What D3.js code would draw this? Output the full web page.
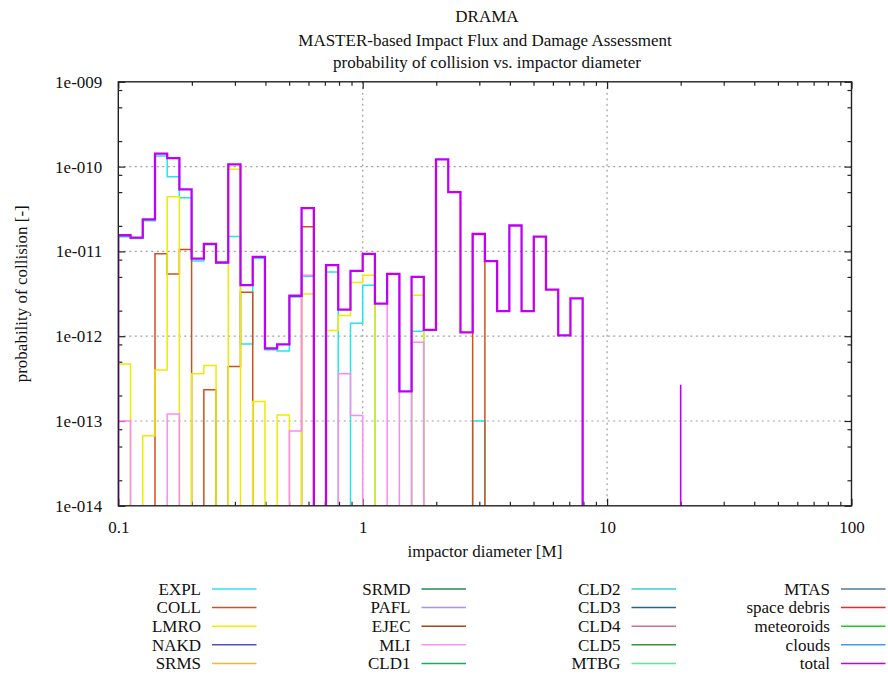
<!DOCTYPE html>
<html>
<head>
<meta charset="utf-8">
<script src="https://cdn.jsdelivr.net/npm/d3@7"></script>
<style>
  body { margin: 0; background: #fff; }
  svg { display: block; font-family: "Liberation Serif", "Times New Roman", serif; }
  .grid line { stroke: #a0a0a0; stroke-width: 1.2; stroke-dasharray: 2 3.5; }
  .axis path { display: none; }
  .axis line { stroke: #222; stroke-width: 1.2; }
  .axis text { font-size: 17px; fill: #111; font-family: "Liberation Serif", serif; }
  .title, .label, .legend text { font-size: 17px; fill: #111; }
</style>
</head>
<body>
<div id="chart"></div>
<script>
// bin edges of the histogram (impactor diameter, m)
const binEdges = [0.1, 0.1122, 0.1259, 0.1413, 0.1585, 0.1778, 0.1995, 0.2239, 0.2512, 0.2818,
  0.3162, 0.3548, 0.3981, 0.4467, 0.5012, 0.5623, 0.6310, 0.7079, 0.7943, 0.8913,
  1.0, 1.122, 1.259, 1.413, 1.585, 1.778, 1.995, 2.239, 2.512, 2.818,
  3.162, 3.548, 3.981, 4.467, 5.012, 5.623, 6.310, 7.079, 7.943];

// probability of collision per bin (0 = below axis)
const explValues = [1.49e-11, 1.42e-11, 2.3e-11, 1.33e-10, 7.6e-11, 4.3e-11, 7.7e-12, 1.2e-11, 7.3e-12, 1.5e-11,
  8.1e-13, 8.3e-12, 6.9e-13, 6.7e-13, 2.9e-12, 5.1e-12, 0, 5.7e-12, 0, 1.42e-12,
  4.0e-12, 0, 0, 0, 1.14e-12, 0, 0, 0, 0, 1.0e-13,
  0, 0, 0, 0, 0, 0, 0, 0];
const collValues = [0, 0, 0, 9.4e-12, 5.4e-12, 1.05e-11, 0, 2.33e-13, 0, 4.4e-13,
  3.3e-12, 0, 0, 0, 0, 1.95e-11, 0, 0, 0, 0,
  0, 0, 0, 0, 0, 0, 0, 0, 0, 1.58e-11,
  0, 0, 0, 0, 0, 0, 0, 0];
const lmroValues = [4.7e-13, 0, 6.7e-14, 4.0e-13, 4.4e-11, 0, 3.6e-13, 4.5e-13, 0, 9.3e-11,
  0, 1.7e-13, 0, 1.18e-13, 0, 3.15e-12, 0, 1.17e-12, 1.76e-12, 4.3e-12,
  5.25e-12, 0, 0, 0, 3.03e-12, 0, 0, 0, 0, 0,
  0, 0, 0, 0, 0, 0, 0, 0];
const mliValues = [1.0e-13, 0, 0, 0, 1.21e-13, 0, 0, 0, 0, 0,
  0, 0, 0, 0, 7.6e-14, 5.25e-12, 0, 0, 3.6e-13, 1.16e-13,
  0, 0, 5.43e-12, 0, 8.5e-13, 0, 0, 0, 0, 0,
  0, 0, 0, 0, 0, 0, 0, 0];
const totalValues = [1.55e-11, 1.45e-11, 2.38e-11, 1.42e-10, 1.26e-10, 5.4e-11, 8.2e-12, 1.23e-11, 7.4e-12, 1.06e-10,
  4.0e-12, 8.6e-12, 7.2e-13, 8.0e-13, 3.0e-12, 3.24e-11, 0, 6.9e-12, 2.06e-12, 5.9e-12,
  9.35e-12, 2.42e-12, 5.43e-12, 2.24e-13, 5.0e-12, 1.19e-12, 1.22e-10, 5.0e-11, 1.11e-12, 1.61e-11,
  7.7e-12, 1.98e-12, 2.02e-11, 1.98e-12, 1.49e-11, 3.54e-12, 1.02e-12, 2.8e-12];

// lone needle in the total curve near 20 m
const spikeDiameter = [20];
const spikeTotal = [2.67e-13];

// axes
const xTickValues = [0.1, 1, 10, 100];
const xTickLabels = ["0.1", "1", "10", "100"];
const yTickValues = [1e-14, 1e-13, 1e-12, 1e-11, 1e-10, 1e-9];
const yTickLabels = ["1e-014", "1e-013", "1e-012", "1e-011", "1e-010", "1e-009"];
const xMinorSteps = [2, 3, 4, 5, 6, 7, 8, 9];
const yMinorSteps = [2, 5, 8];

// legend (gnuplot key, 4 columns of 5)
const legendNames = ["EXPL", "COLL", "LMRO", "NAKD", "SRMS",
  "SRMD", "PAFL", "EJEC", "MLI", "CLD1",
  "CLD2", "CLD3", "CLD4", "CLD5", "MTBG",
  "MTAS", "space debris", "meteoroids", "clouds", "total"];
const legendColors = ["#30e4ec", "#d05028", "#f0f000", "#5050d0", "#ffb428",
  "#228a52", "#a890f8", "#a04818", "#ff90f4", "#10b062",
  "#40c8d0", "#206888", "#d07090", "#309840", "#50f090",
  "#507898", "#ff2020", "#20c820", "#4098f8", "#c000f8"];

const COLOR = { expl: "#22e6ee", coll: "#d0501c", lmro: "#ecec00", mli: "#ff86f6", total: "#c000f4" };

const W = 888, H = 674;
const margin = { top: 81.8, right: 36.5, bottom: 168.2, left: 118.3 };
const width = W - margin.left - margin.right;
const height = H - margin.top - margin.bottom;

const svg = d3.select("#chart").append("svg")
  .attr("width", W).attr("height", H)
  .attr("viewBox", `0 0 ${W} ${H}`);
svg.append("rect").attr("width", W).attr("height", H).attr("fill", "#fff");

const g = svg.append("g").attr("transform", `translate(${margin.left},${margin.top})`);

const x = d3.scaleLog().domain([0.1, 100]).range([0, width]);
const y = d3.scaleLog().domain([1e-14, 1e-9]).range([height, 0]);

// grid
const grid = g.append("g").attr("class", "grid");
grid.selectAll(".gy").data(yTickValues.slice(1, -1)).join("line")
  .attr("x1", 0).attr("x2", width).attr("y1", d => y(d)).attr("y2", d => y(d));
grid.selectAll(".gx").data(xTickValues.slice(1, -1)).join("line")
  .attr("y1", 0).attr("y2", height).attr("x1", d => x(d)).attr("x2", d => x(d));

// minor tick positions
const xMinor = [];
xTickValues.slice(0, -1).forEach(d => xMinorSteps.forEach(m => xMinor.push(d * m)));
const yMinor = [];
yTickValues.slice(0, -1).forEach(d => yMinorSteps.forEach(m => yMinor.push(d * m)));

const fmtX = d => xTickLabels[xTickValues.indexOf(d)];
const fmtY = d => yTickLabels[yTickValues.indexOf(d)];

// bottom / top
g.append("g").attr("class", "axis").attr("transform", `translate(0,${height})`)
  .call(d3.axisBottom(x).tickValues(xTickValues).tickFormat(fmtX).tickSize(-7).tickPadding(15));
g.append("g").attr("class", "axis").attr("transform", `translate(0,${height})`)
  .call(d3.axisBottom(x).tickValues(xMinor).tickFormat("").tickSize(-4));
g.append("g").attr("class", "axis")
  .call(d3.axisTop(x).tickValues(xTickValues).tickFormat("").tickSize(-7));
g.append("g").attr("class", "axis")
  .call(d3.axisTop(x).tickValues(xMinor).tickFormat("").tickSize(-4));

// left / right
g.append("g").attr("class", "axis")
  .call(d3.axisLeft(y).tickValues(yTickValues).tickFormat(fmtY).tickSize(-7).tickPadding(16));
g.append("g").attr("class", "axis")
  .call(d3.axisLeft(y).tickValues(yMinor).tickFormat("").tickSize(-4));
g.append("g").attr("class", "axis").attr("transform", `translate(${width},0)`)
  .call(d3.axisRight(y).tickValues(yTickValues).tickFormat("").tickSize(-7));
g.append("g").attr("class", "axis").attr("transform", `translate(${width},0)`)
  .call(d3.axisRight(y).tickValues(yMinor).tickFormat("").tickSize(-4));

// clip for the step lines
svg.append("defs").append("clipPath").attr("id", "plotclip")
  .append("rect").attr("width", width).attr("height", height);
const plot = g.append("g").attr("clip-path", "url(#plotclip)");

const yv = v => v > 0 ? y(v) : height + 6;

// histogram as steps: each bin value held from its left edge to the next
const step = d3.line()
  .x(d => x(d.e))
  .y(d => yv(d.v))
  .curve(d3.curveStepAfter);

function binsOf(values) {
  const pts = [{ e: binEdges[0], v: 0 }];
  values.forEach((v, i) => pts.push({ e: binEdges[i], v }));
  pts.push({ e: binEdges[values.length], v: 0 });
  return pts;
}

const series = [
  { values: explValues, color: COLOR.expl, w: 1.5 },
  { values: collValues, color: COLOR.coll, w: 1.5 },
  { values: lmroValues, color: COLOR.lmro, w: 1.5 },
  { values: mliValues, color: COLOR.mli, w: 1.5 },
  { values: totalValues, color: COLOR.total, w: 2.3 }
];
series.forEach(s => {
  plot.append("path").datum(binsOf(s.values))
    .attr("fill", "none").attr("stroke", s.color).attr("stroke-width", s.w)
    .attr("stroke-linejoin", "miter")
    .attr("d", step);
});

const spikeLine = d3.line().x(d => x(d.e)).y(d => yv(d.v));
spikeDiameter.forEach((dm, i) => {
  plot.append("path").datum([{ e: dm, v: 0 }, { e: dm, v: spikeTotal[i] }])
    .attr("fill", "none").attr("stroke", COLOR.total).attr("stroke-width", 1.6)
    .attr("d", spikeLine);
});

// frame
g.append("rect").attr("width", width).attr("height", height)
  .attr("fill", "none").attr("stroke", "#222").attr("stroke-width", 1.4);

// titles
svg.append("text").attr("class", "title").attr("x", 487).attr("y", 22)
  .attr("text-anchor", "middle").text("DRAMA");
svg.append("text").attr("class", "title").attr("x", 485).attr("y", 45.5)
  .attr("text-anchor", "middle").text("MASTER-based Impact Flux and Damage Assessment");
svg.append("text").attr("class", "title").attr("x", 487).attr("y", 67.5)
  .attr("text-anchor", "middle").text("probability of collision vs. impactor diameter");

svg.append("text").attr("class", "label").attr("x", margin.left + width / 2).attr("y", 557)
  .attr("text-anchor", "middle").text("impactor diameter [M]");
svg.append("text").attr("class", "label")
  .attr("transform", `translate(27,${margin.top + height / 2}) rotate(-90)`)
  .attr("text-anchor", "middle").text("probability of collision [-]");

// legend
const colRight = [201, 410.5, 620.5, 830];
const rowY = [589, 607.6, 626.2, 644.8, 663.4];
const legend = svg.append("g").attr("class", "legend");
legendNames.forEach((name, i) => {
  const c = Math.floor(i / 5), r = i % 5;
  const tx = colRight[c], ty = rowY[r];
  legend.append("text").attr("x", tx).attr("y", ty).attr("dy", "0.34em")
    .attr("text-anchor", "end").text(name);
  legend.append("line")
    .attr("x1", tx + 11).attr("x2", tx + 55.5).attr("y1", ty).attr("y2", ty)
    .attr("stroke", legendColors[i]).attr("stroke-width", 1.5);
});
</script>
</body>
</html>
